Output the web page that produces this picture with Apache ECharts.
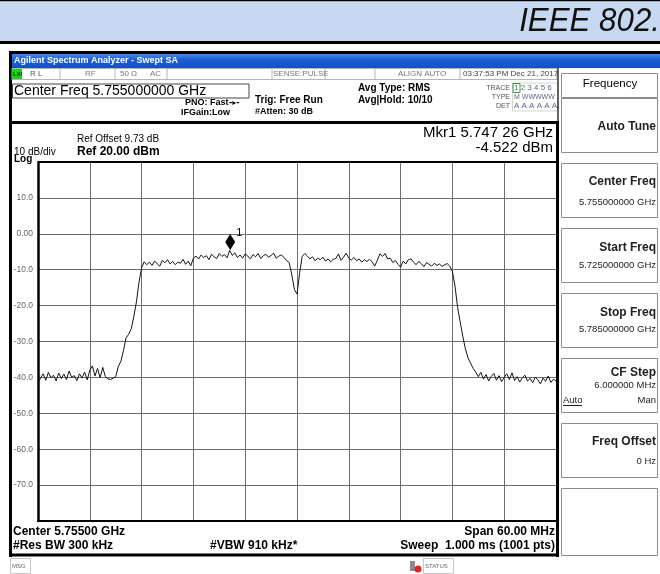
<!DOCTYPE html>
<html>
<head>
<meta charset="utf-8">
<style>
  html, body { margin: 0; padding: 0; background: #fff; }
  #chart { width: 660px; height: 574px; }
</style>
<script src="https://cdn.jsdelivr.net/npm/echarts@6/dist/echarts.min.js"></script>
</head>
<body>
<div id="chart"></div>
<script>
// trace: one point every 0.3 MHz, 5725 .. 5785 MHz (dBm)
const startFreq = 5725;
const freqStep = 0.3;
const traceLevels = [
    -41.5, -40.2, -39.0, -40.8, -38.6, -40.1, -39.4, -41.0, -38.8, -40.3,
    -39.1, -40.6, -38.2, -40.0, -39.5, -40.9, -39.0, -40.2, -38.5, -40.7,
    -38.0, -36.8, -39.6, -37.5, -40.1, -37.2, -39.8, -40.4, -40.6, -40.2,
    -39.8, -37.0, -35.5, -32.5, -29.0, -28.0, -26.5, -23.0, -19.0, -13.5,
    -9.5, -7.8, -8.6, -7.9, -8.8, -7.6, -8.3, -9.0, -7.4, -8.1,
    -7.2, -8.4, -7.7, -8.6, -7.9, -8.2, -7.1, -8.5, -7.6, -8.9,
    -6.8, -6.2, -7.0, -5.9, -6.6, -6.1, -7.2, -5.7, -6.4, -6.9,
    -5.5, -6.3, -5.8, -6.7, -4.6, -6.0, -5.3, -6.6, -5.9, -6.8,
    -5.6, -6.2, -7.0, -5.8, -6.4, -5.5, -6.9, -6.1, -5.7, -6.5,
    -6.0, -5.4, -6.8, -6.2, -5.9, -6.6, -7.5, -8.0, -11.5, -15.5,
    -16.8, -11.0, -6.3, -5.5, -6.2, -7.0, -6.4, -7.5, -6.8, -7.2,
    -6.5, -7.6, -7.0, -7.8, -7.1, -6.9, -5.6, -7.4, -6.5, -5.4,
    -6.8, -7.3, -6.6, -7.5, -7.0, -7.9, -7.2, -7.7, -7.1, -7.8,
    -9.0, -7.4, -5.6, -6.3, -5.5, -7.0, -6.8, -8.0, -7.4, -8.5,
    -9.3, -7.6, -8.4, -7.2, -7.0, -7.9, -8.6, -7.7, -8.3, -9.2,
    -8.0, -8.5, -9.0, -8.2, -8.8, -8.4, -9.1, -8.6, -8.3, -9.0,
    -10.5, -14.5, -20.5, -24.5, -28.5, -32.0, -34.5, -36.0, -37.5, -38.5,
    -39.8, -38.6, -40.5, -39.2, -41.0, -39.7, -38.9, -40.8, -39.5, -41.2,
    -40.0, -39.0, -40.6, -38.7, -40.9, -39.8, -41.3, -40.1, -39.4, -41.0,
    -40.3, -41.5, -39.9, -40.7, -41.8, -40.2, -41.1, -39.6, -41.4, -40.5,
    -41.0
];
const markerFreq = 5747.26;
const markerLevel = -4.522;
const yTickValues = [10, 0, -10, -20, -30, -40, -50, -60, -70];
const yTickLabels = ['10.0', '0.00', '-10.0', '-20.0', '-30.0', '-40.0', '-50.0', '-60.0', '-70.0'];

const FONT = '"Liberation Sans", Arial, sans-serif';

// small helpers for the instrument screen around the graticule
function txt(text, x, y, size, opt) {
    opt = opt || {};
    return {
        type: 'text', x: x, y: y, z: 20, silent: true,
        scaleX: opt.scaleX || 1,
        style: {
            text: text,
            fill: opt.color || '#000',
            font: (opt.bold ? 'bold ' : '') + (opt.italic ? 'italic ' : '') + size + 'px ' + (opt.family || FONT),
            textAlign: opt.align || 'left', align: opt.align || 'left',
            textVerticalAlign: 'middle', verticalAlign: 'middle'
        }
    };
}
function box(x, y, w, h, fill, stroke, lw) {
    return {
        type: 'rect', z: 5, silent: true,
        shape: { x: x, y: y, width: w, height: h },
        style: { fill: fill || 'none', stroke: stroke || 'none', lineWidth: lw || 1 }
    };
}
function line(x1, y1, x2, y2, color, lw) {
    return {
        type: 'line', z: 6, silent: true,
        shape: { x1: x1, y1: y1, x2: x2, y2: y2 },
        style: { stroke: color, lineWidth: lw || 1 }
    };
}

const graphics = [];
// document header band
graphics.push(box(0, 0, 660, 1.5, '#000'));
graphics.push(box(0, 1.5, 660, 39.5, '#c6d9f1'));
graphics.push(box(0, 41, 660, 3, '#000'));
graphics.push(txt('IEEE 802.', 660, 22, 34, { italic: true, align: 'right', scaleX: 0.92, color: '#111' }));

// instrument frame
graphics.push(box(9, 51, 651, 3, '#000'));
graphics.push(box(9, 51, 3, 506, '#000'));
graphics.push({
    type: 'rect', z: 5, silent: true,
    shape: { x: 12, y: 54, width: 648, height: 14 },
    style: {
        fill: new echarts.graphic.LinearGradient(0, 0, 0, 1, [
            { offset: 0, color: '#4a86e8' }, { offset: 0.4, color: '#1f5fd6' }, { offset: 1, color: '#1350c4' }
        ])
    }
});
graphics.push(txt('Agilent Spectrum Analyzer - Swept SA', 14, 61, 9, { bold: true, color: '#fff', family: '"Liberation Sans Narrow", "Liberation Sans", Arial, sans-serif' }));

// status row
graphics.push(box(12, 68.5, 545, 11, '#fff', '#b5b5b5'));
graphics.push(box(12, 69, 10, 10, '#1fd11f'));
graphics.push(txt('LXI', 13, 74, 6, { bold: true, color: '#0a3a0a' }));
[60, 115, 167, 272, 325, 375, 460].forEach(function (x) {
    graphics.push(line(x, 68.5, x, 79.5, '#b5b5b5'));
});
graphics.push(txt('R L', 30, 74, 8, { color: '#555' }));
graphics.push(txt('RF', 85, 74, 8, { color: '#777' }));
graphics.push(txt('50 Ω', 120, 74, 8, { color: '#777' }));
graphics.push(txt('AC', 150, 74, 8, { color: '#777' }));
graphics.push(txt('SENSE:PULSE', 273, 74, 8, { color: '#777' }));
graphics.push(txt('ALIGN AUTO', 398, 74, 8, { color: '#777' }));
graphics.push(txt('03:37:53 PM Dec 21, 2017', 463, 74, 8, { color: '#444' }));

// measurement header
graphics.push(box(12.5, 84, 236.5, 14, '#fff', '#444'));
graphics.push(txt('Center Freq 5.755000000 GHz', 14, 91, 14));
graphics.push(txt('PNO: Fast', 185, 103, 9, { bold: true }));
graphics.push(txt('-▸-', 229, 103, 8, { bold: true, family: '"DejaVu Sans", sans-serif' }));
graphics.push(txt('IFGain:Low', 181, 113, 9, { bold: true }));
graphics.push(txt('Trig: Free Run', 255, 100, 10, { bold: true }));
graphics.push(txt('#Atten: 30 dB', 255, 112, 9, { bold: true }));
graphics.push(txt('Avg Type: RMS', 358, 88, 10, { bold: true }));
graphics.push(txt('Avg|Hold: 10/10', 358, 100, 10, { bold: true }));
graphics.push(txt('TRACE', 510, 88, 7, { align: 'right', color: '#555' }));
graphics.push(txt('TYPE', 510, 97, 7, { align: 'right', color: '#555' }));
graphics.push(txt('DET', 510, 106, 7, { align: 'right', color: '#555' }));
graphics.push(box(512.5, 83, 45, 28, 'none', '#cfd8cf'));
graphics.push(box(513, 83.5, 7, 9, 'none', '#3c9a3c'));
graphics.push(txt('1 2 3 4 5 6', 514, 88, 8, { color: '#5a6a8a' }));
graphics.push(txt('M WWWWW', 514, 97, 7, { color: '#5a6a8a' }));
graphics.push(txt('A A A A A A', 514, 106, 8, { color: '#5a6a8a' }));

// graph panel frame
graphics.push(box(9, 121, 550, 3, '#000'));
graphics.push(box(556, 121, 3, 436, '#000'));
graphics.push(box(9, 553.5, 550, 3, '#000'));
graphics.push(line(558, 68, 558, 121, '#333', 1.5));
graphics.push(line(38, 162, 556, 162, '#000', 2));

graphics.push(txt('Ref Offset 9.73 dB', 77, 139, 10));
graphics.push(txt('Ref 20.00 dBm', 77, 152, 12, { bold: true }));
graphics.push(txt('10 dB/div', 14, 152, 10));
graphics.push(txt('Log', 14, 159, 10, { bold: true }));
graphics.push(txt('Mkr1 5.747 26 GHz', 553, 133, 15, { align: 'right' }));
graphics.push(txt('-4.522 dBm', 553, 148, 15, { align: 'right' }));

graphics.push(txt('Center 5.75500 GHz', 13, 532, 12, { bold: true }));
graphics.push(txt('#Res BW 300 kHz', 13, 546, 12, { bold: true }));
graphics.push(txt('#VBW 910 kHz*', 210, 546, 12, { bold: true }));
graphics.push(txt('Span 60.00 MHz', 555, 532, 12, { bold: true, align: 'right' }));
graphics.push(txt('Sweep  1.000 ms (1001 pts)', 555, 546, 12, { bold: true, align: 'right' }));

// message / status row
graphics.push(box(10.5, 558.5, 20, 15, '#fff', '#c8c8c8'));
graphics.push(txt('MSG', 12, 566, 6, { color: '#666' }));
graphics.push(box(410, 561, 5, 10, '#8a8a8a'));
graphics.push({ type: 'circle', z: 7, silent: true, shape: { cx: 418, cy: 569, r: 3.5 }, style: { fill: '#e02424' } });
graphics.push(box(423.5, 558.5, 30, 15, '#fff', '#c8c8c8'));
graphics.push(txt('STATUS', 425, 566, 6, { color: '#666' }));

// soft key panel
graphics.push(box(559, 68, 101, 489, '#fff'));
graphics.push(box(561.5, 73.5, 96, 24, '#fff', '#8c8c8c'));
graphics.push(txt('Frequency', 610, 84, 11.5, { align: 'center' }));
const softKeys = [
    { top: 98, title: 'Auto Tune', titleY: 127 },
    { top: 163, title: 'Center Freq', titleY: 182, value: '5.755000000 GHz', valueY: 202 },
    { top: 228, title: 'Start Freq', titleY: 248, value: '5.725000000 GHz', valueY: 265 },
    { top: 293, title: 'Stop Freq', titleY: 313, value: '5.785000000 GHz', valueY: 329 },
    { top: 358, title: 'CF Step', titleY: 373, value: '6.000000 MHz', valueY: 385 },
    { top: 423, title: 'Freq Offset', titleY: 442, value: '0 Hz', valueY: 461 }
];
softKeys.forEach(function (k) {
    graphics.push(box(561.5, k.top + 0.5, 96, 54, '#fff', '#8c8c8c'));
    graphics.push(txt(k.title, 656, k.titleY, 12, { bold: true, align: 'right', color: '#222' }));
    if (k.value) {
        graphics.push(txt(k.value, 656, k.valueY, 9.5, { align: 'right', color: '#222' }));
    }
});
graphics.push(txt('Auto', 563, 400, 9.5, { color: '#222' }));
graphics.push(line(563, 405.5, 582, 405.5, '#222', 1));
graphics.push(txt('Man', 656, 400, 9.5, { align: 'right', color: '#222' }));
graphics.push(box(561.5, 488.5, 96, 67, '#fff', '#8c8c8c'));

const yLabelMap = {};
yTickValues.forEach(function (v, i) { yLabelMap[v] = yTickLabels[i]; });

const chart = echarts.init(document.getElementById('chart'), null, { renderer: 'canvas' });
chart.setOption({
    animation: false,
    backgroundColor: '#fff',
    grid: { left: 38, top: 162, width: 518, height: 359, containLabel: false },
    xAxis: {
        type: 'value',
        min: 5725,
        max: 5785,
        interval: 6,
        axisLine: { show: true, onZero: false, lineStyle: { color: '#000', width: 2 } },
        axisTick: { show: false },
        axisLabel: { show: false },
        splitLine: { show: true, lineStyle: { color: '#6e6e6e', width: 1 } }
    },
    yAxis: {
        type: 'value',
        min: -80,
        max: 20,
        interval: 10,
        axisLine: { show: true, onZero: false, lineStyle: { color: '#000', width: 2.5 } },
        axisTick: { show: false },
        axisLabel: {
            margin: 5,
            color: '#666',
            fontSize: 8.5,
            fontFamily: FONT,
            formatter: function (v) { return yLabelMap[v] || ''; }
        },
        splitLine: { show: true, lineStyle: { color: '#6e6e6e', width: 1 } }
    },
    series: [{
        type: 'line',
        data: traceLevels.map(function (v, i) { return [startFreq + i * freqStep, v]; }),
        showSymbol: false,
        lineStyle: { color: '#151515', width: 1 },
        z: 3,
        markPoint: {
            symbol: 'diamond',
            symbolSize: [10, 16],
            symbolOffset: [0, '-50%'],
            itemStyle: { color: '#000' },
            label: {
                show: true,
                position: 'right',
                distance: 1,
                offset: [0, -9],
                formatter: '1',
                color: '#000',
                fontSize: 11,
                fontFamily: FONT
            },
            data: [{ coord: [markerFreq, markerLevel] }]
        }
    }],
    graphic: { elements: graphics }
});
</script>
</body>
</html>
